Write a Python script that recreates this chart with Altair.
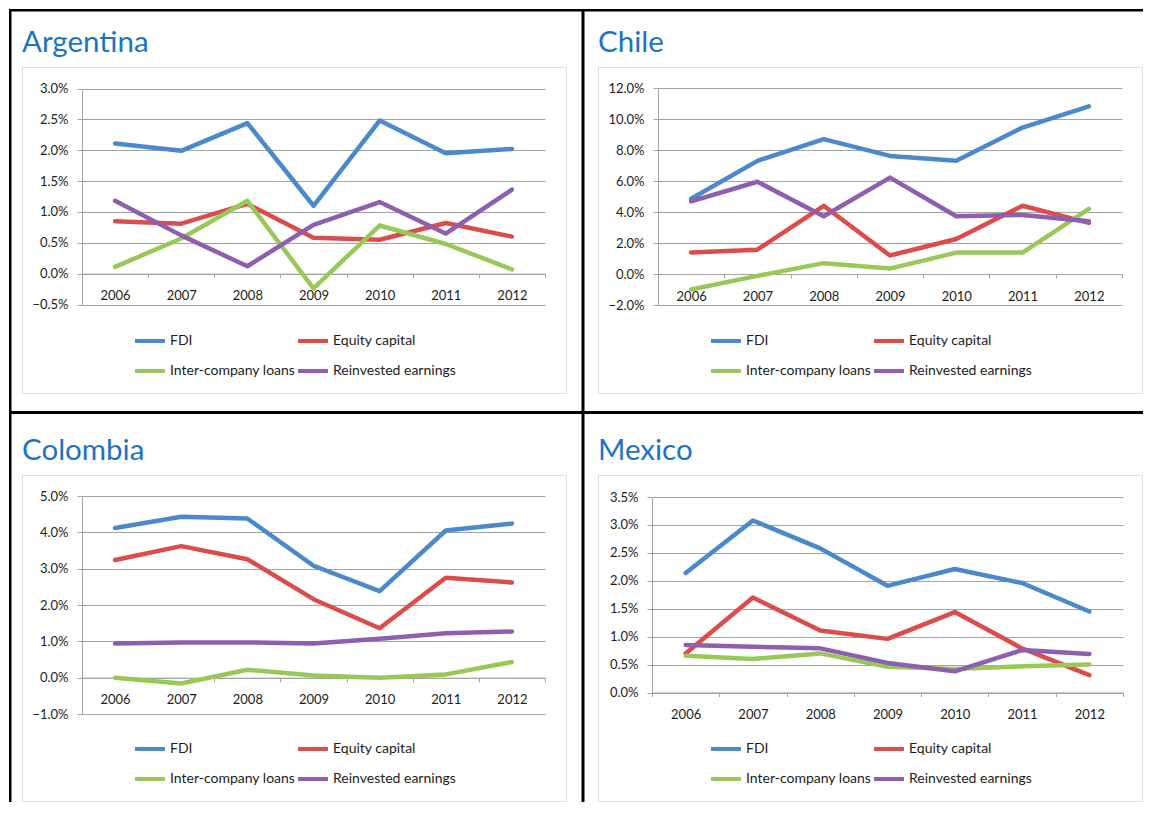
import altair as alt
import pandas as pd

years = ["2006", "2007", "2008", "2009", "2010", "2011", "2012"]
series = ["FDI", "Equity capital", "Inter-company loans", "Reinvested earnings"]
series_colors = ["#4a89cb", "#dc4c4b", "#99c858", "#8d5fae"]

countries = ["Argentina", "Chile", "Colombia", "Mexico"]

argentina_fdi = [2.11, 1.99, 2.44, 1.10, 2.48, 1.95, 2.02]
argentina_equity = [0.85, 0.81, 1.13, 0.58, 0.55, 0.82, 0.60]
argentina_loans = [0.11, 0.57, 1.18, -0.24, 0.78, 0.48, 0.07]
argentina_reinvested = [1.18, 0.62, 0.12, 0.79, 1.16, 0.65, 1.36]

chile_fdi = [4.85, 7.30, 8.70, 7.62, 7.30, 9.45, 10.82]
chile_equity = [1.38, 1.57, 4.40, 1.19, 2.26, 4.40, 3.30]
chile_loans = [-1.00, -0.12, 0.70, 0.35, 1.38, 1.38, 4.20]
chile_reinvested = [4.68, 5.95, 3.73, 6.22, 3.73, 3.81, 3.40]

colombia_fdi = [4.12, 4.43, 4.38, 3.08, 2.38, 4.05, 4.24]
colombia_equity = [3.24, 3.62, 3.26, 2.16, 1.36, 2.75, 2.62]
colombia_loans = [0.00, -0.16, 0.22, 0.06, 0.00, 0.09, 0.43]
colombia_reinvested = [0.94, 0.97, 0.97, 0.94, 1.07, 1.22, 1.27]

mexico_fdi = [2.14, 3.08, 2.58, 1.91, 2.21, 1.96, 1.45]
mexico_equity = [0.70, 1.70, 1.11, 0.96, 1.44, 0.79, 0.31]
mexico_loans = [0.66, 0.60, 0.70, 0.46, 0.42, 0.47, 0.50]
mexico_reinvested = [0.85, 0.82, 0.79, 0.53, 0.38, 0.76, 0.69]

argentina_ticks = [-0.5, 0.0, 0.5, 1.0, 1.5, 2.0, 2.5, 3.0]
chile_ticks = [-2.0, 0.0, 2.0, 4.0, 6.0, 8.0, 10.0, 12.0]
colombia_ticks = [-1.0, 0.0, 1.0, 2.0, 3.0, 4.0, 5.0]
mexico_ticks = [0.0, 0.5, 1.0, 1.5, 2.0, 2.5, 3.0, 3.5]

FONT = "Lato"
TEXT = "#1c1c1c"
GRID = "#a3a3a3"
BOX_W, BOX_H = 544, 326


def panel(name, data_lists, ticks, x_range, y_range, extra_layers=()):
    rows = []
    for s, vals in zip(series, data_lists):
        for yr, v in zip(years, vals):
            rows.append({"Year": yr, "Series": s, "Value": v})
    df = pd.DataFrame(rows)
    ymin, ymax = ticks[0], ticks[-1]
    zero_y = y_range[0] - (0 - ymin) / (ymax - ymin) * (y_range[0] - y_range[1])

    lines = alt.Chart(df).mark_line(
        strokeWidth=4.5, strokeCap="round", strokeJoin="round"
    ).encode(
        x=alt.X(
            "Year:O", sort=years, bandPosition=0.5,
            scale=alt.Scale(type="band", range=x_range, paddingInner=0, paddingOuter=0),
            axis=alt.Axis(
                title=None, orient="bottom", offset=zero_y - BOX_H, grid=False,
                domainColor=GRID, tickColor=GRID, tickSize=4, tickBand="extent",
                labelAngle=0, labelBaseline="middle", labelPadding=18,
                labelFont=FONT, labelFontSize=13, labelColor=TEXT,
            ),
        ),
        y=alt.Y(
            "Value:Q",
            scale=alt.Scale(domain=[ymin, ymax], range=y_range, nice=False, zero=False),
            axis=alt.Axis(
                title=None, orient="left", offset=-x_range[0], values=ticks,
                labelExpr="format(datum.value, '.1f') + '%'",
                grid=True, gridColor=GRID, gridWidth=1,
                domainColor=GRID, tickColor=GRID, tickSize=5, labelPadding=9,
                labelFont=FONT, labelFontSize=13, labelColor=TEXT,
            ),
        ),
        color=alt.Color(
            "Series:N", sort=series,
            scale=alt.Scale(domain=series, range=series_colors),
            legend=alt.Legend(
                title=None, orient="none", legendX=111, legendY=257,
                direction="horizontal", columns=2, columnPadding=-8, rowPadding=5,
                symbolType="stroke", symbolStrokeWidth=4, symbolSize=900,
                labelFont=FONT, labelFontSize=14, labelColor=TEXT, labelOffset=3,
            ),
        ),
    )

    title = alt.Chart(pd.DataFrame({"country": [name]})).mark_text(
        align="left", baseline="alphabetic", font=FONT, fontSize=29.5, color="#1a74c6"
    ).encode(x=alt.value(0), y=alt.value(-15), text="country:N")

    return alt.layer(lines, title, *extra_layers).properties(width=BOX_W, height=BOX_H)


# table cell borders (drawn once, relative to the first cell)
one = pd.DataFrame({"k": [0]})
border = dict(color="black")
borders = [
    alt.Chart(one).mark_rect(**border).encode(
        x=alt.value(-13), x2=alt.value(1121), y=alt.value(-58), y2=alt.value(-55.5)),
    alt.Chart(one).mark_rect(**border).encode(
        x=alt.value(-13), x2=alt.value(-10.5), y=alt.value(-58), y2=alt.value(735)),
    alt.Chart(one).mark_rect(**border).encode(
        x=alt.value(559.5), x2=alt.value(562.5), y=alt.value(-58), y2=alt.value(735)),
    alt.Chart(one).mark_rect(**border).encode(
        x=alt.value(-13), x2=alt.value(1121), y=alt.value(344), y2=alt.value(347)),
]

arg = panel(countries[0],
            [argentina_fdi, argentina_equity, argentina_loans, argentina_reinvested],
            argentina_ticks, [60, 523], [237.5, 21.5], borders)
chl = panel(countries[1],
            [chile_fdi, chile_equity, chile_loans, chile_reinvested],
            chile_ticks, [60, 524], [238, 21], ())
col = panel(countries[2],
            [colombia_fdi, colombia_equity, colombia_loans, colombia_reinvested],
            colombia_ticks, [60, 523], [239, 21], ())
mex = panel(countries[3],
            [mexico_fdi, mexico_equity, mexico_loans, mexico_reinvested],
            mexico_ticks, [54, 525], [217.5, 22], ())

chart = alt.concat(
    arg, chl, col, mex, columns=2, spacing={"row": 82, "column": 32}, bounds="flush"
).resolve_legend(color="independent").resolve_scale(color="independent").properties(
    padding=0
).configure_view(
    stroke="#c6c6c6", strokeWidth=2
).configure(background="white")

chart.save("out.html", embed_options={"renderer": "svg", "actions": False})
